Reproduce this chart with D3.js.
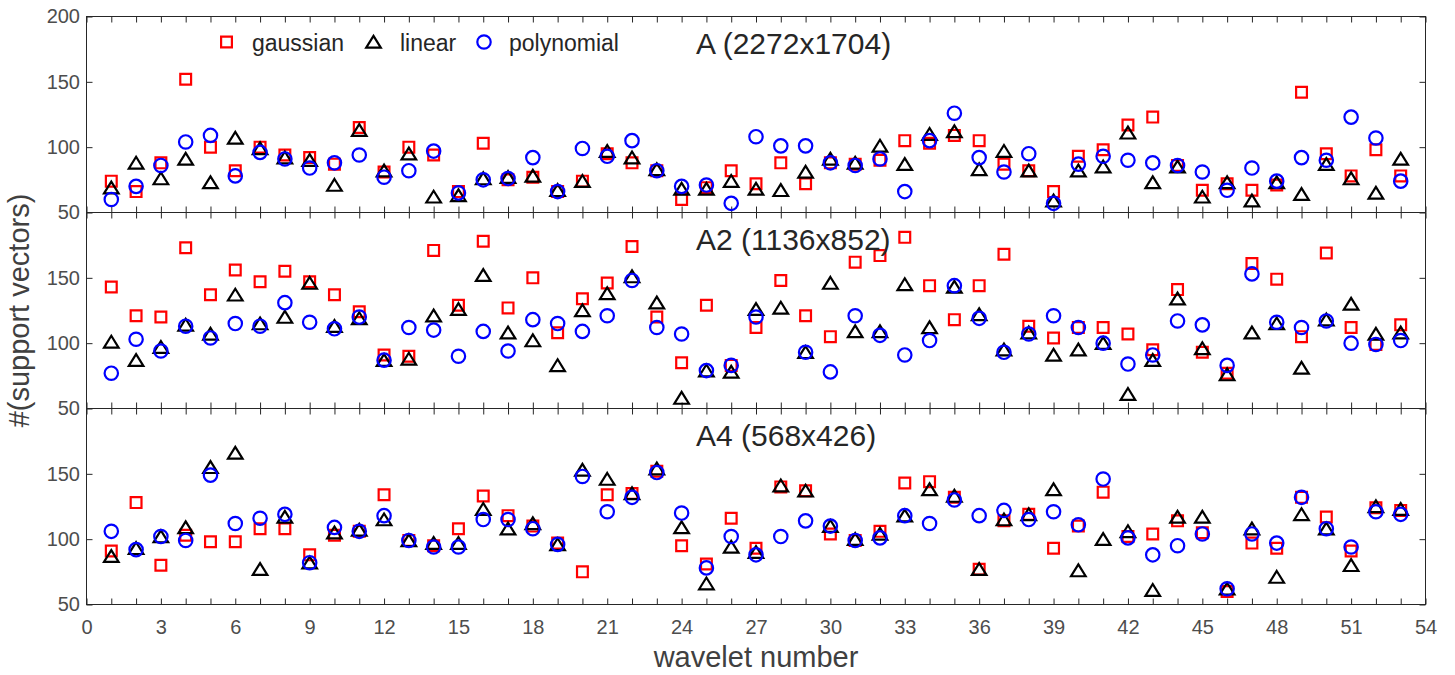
<!DOCTYPE html>
<html><head><meta charset="utf-8">
<script src="https://cdn.jsdelivr.net/npm/d3@7"></script>
<style>body{margin:0;background:#fff}svg{display:block}</style>
</head><body>
<svg id="chart" width="1455" height="675"></svg>
<script>
// ---------- data ----------
const waveletNumbers = d3.range(1, 54);
const seriesNames = ["gaussian", "linear", "polynomial"];
const panelTitles = ["A (2272x1704)", "A2 (1136x852)", "A4 (568x426)"];
const xTickValues = d3.range(0, 55, 3);
const yTicksFirstPanel = [50, 100, 150, 200];
const yTicksOtherPanels = [50, 100, 150];
const xLabel = "wavelet number";
const yLabel = "#(support vectors)";

const gaussianA = [74,66,88,152,100,82,100,94,92,87,115,81,100,94,66,103,75,77,66,74,95,88,82,60,69,82,72,88,72,88,87,90,105,103,109,105,87,82,66,93,98,117,123,86,67,72,67,71,142,95,78,98,78];
const linearA   = [69,88,76,91,73,107,99,92,90,71,113,82,95,62,63,76,77,78,67,74,97,92,83,68,68,74,68,67,81,91,88,101,87,110,112,83,97,82,59,82,85,111,73,85,62,73,59,73,64,87,76,65,91];
const polyA     = [60,70,86,104,109,78,96,91,84,88,94,77,82,97,65,75,76,92,66,99,93,105,82,70,71,57,108,101,101,88,86,91,66,105,126,92,81,95,57,87,93,90,88,86,81,67,84,74,92,90,123,107,74];

const gaussianA2 = [143,121,120,173,137,156,147,155,147,137,124,91,90,171,129,178,127,150,108,134,146,174,120,85,129,83,112,148,121,105,162,167,181,144,118,144,168,113,104,112,112,107,95,141,93,77,161,149,105,169,112,99,114];
const linearA2   = [101,87,97,114,107,137,115,120,146,113,119,87,88,121,126,152,108,102,83,125,138,151,131,58,79,78,126,127,93,146,109,109,145,112,143,122,95,108,91,95,100,61,87,134,96,76,108,115,81,118,130,107,108];
const polyA2     = [77,103,94,113,104,115,113,131,116,111,120,87,112,110,90,109,94,118,115,109,121,148,112,107,79,83,120,null,93,78,121,106,91,102,144,119,93,107,121,112,100,84,91,117,114,83,153,116,112,117,100,99,102];

const gaussianA4 = [91,128,80,103,98,98,108,108,88,103,106,134,99,95,108,133,118,110,97,75,134,135,152,95,81,116,93,140,137,104,99,106,143,144,132,77,114,119,93,110,136,102,104,114,105,60,97,93,132,117,91,124,122];
const linearA4   = [87,93,102,109,155,166,77,117,82,105,107,115,99,97,97,123,108,112,96,153,146,135,154,109,66,94,90,141,137,110,100,104,118,138,133,77,115,119,138,76,100,106,61,117,117,62,108,71,119,108,80,125,123];
const polyA4     = [106,92,102,99,149,112,116,119,82,109,106,118,99,94,94,115,115,108,96,148,121,132,151,120,78,102,88,102,114,110,99,101,118,112,130,118,122,115,121,111,146,101,88,95,104,62,104,97,132,108,94,121,119];

const panels = [
  {title: panelTitles[0], series: [gaussianA, linearA, polyA], yTicks: yTicksFirstPanel},
  {title: panelTitles[1], series: [gaussianA2, linearA2, polyA2], yTicks: yTicksOtherPanels},
  {title: panelTitles[2], series: [gaussianA4, linearA4, polyA4], yTicks: yTicksOtherPanels}
];

// ---------- layout ----------
const FONT = "'Liberation Sans', Arial, Helvetica, sans-serif";
const left = 86.5, right = 1425.5, top0 = 16.5, panelH = 196;
const axisColor = "#262626", tickLabelColor = "#4d4d4d";
const colors = ["#ff0000", "#000000", "#0000ff"];

const svg = d3.select("#chart");
const x = d3.scaleLinear().domain([0, 54]).range([left, right]);

const markerPath = {
  gaussian: "M-5.4,-5.4H5.4V5.4H-5.4Z",
  linear: "M0,-6.1L7.3,5.7H-7.3Z",
  polynomial: d3.arc()({innerRadius: 0, outerRadius: 6.7, startAngle: 0, endAngle: 2 * Math.PI})
};

panels.forEach((p, pi) => {
  const pTop = top0 + pi * panelH;
  const y = d3.scaleLinear().domain([50, 200]).range([pTop + panelH, pTop]);
  const g = svg.append("g");

  const isLast = pi === panels.length - 1;
  const xb = g.append("g").attr("transform", `translate(0,${pTop + panelH})`)
    .call(d3.axisBottom(x).tickValues(d3.range(0, 55)).tickSize(-6).tickPadding(15.5)
      .tickFormat(d => (isLast && xTickValues.includes(d)) ? d : ""));
  const xt = g.append("g").attr("transform", `translate(0,${pTop})`)
    .call(d3.axisTop(x).tickValues(d3.range(0, 55)).tickSize(-6).tickFormat(""));
  const yl = g.append("g").attr("transform", `translate(${left},0)`)
    .call(d3.axisLeft(y).tickValues(p.yTicks).tickSize(-6).tickPadding(6.5));
  const yr = g.append("g").attr("transform", `translate(${right},0)`)
    .call(d3.axisRight(y).tickValues(p.yTicks).tickSize(-6).tickFormat(""));

  [xb, xt, yl, yr].forEach(a => {
    a.select(".domain").remove();
    a.selectAll(".tick line").attr("stroke", axisColor).attr("stroke-width", 1);
    a.selectAll("text").attr("font-family", FONT).attr("font-size", 20).attr("fill", tickLabelColor);
  });

  g.append("rect").attr("x", left).attr("y", pTop).attr("width", right - left).attr("height", panelH)
    .attr("fill", "none").attr("stroke", axisColor).attr("stroke-width", 1);

  p.series.forEach((vals, si) => {
    const name = seriesNames[si];
    g.append("g").selectAll("path")
      .data(waveletNumbers.map((w, i) => ({w, v: vals[i]})).filter(d => d.v != null))
      .join("path")
      .attr("transform", d => `translate(${x(d.w)},${y(d.v)})`)
      .attr("d", markerPath[name])
      .attr("fill", "none").attr("stroke", colors[si]).attr("stroke-width", 2.2)
      .attr("stroke-linejoin", "miter");
  });

  g.append("text").attr("x", 696).attr("y", pTop + 37)
    .attr("font-family", FONT).attr("font-size", 30).attr("fill", axisColor).text(p.title);
});

// legend
const legendItems = [
  {name: "gaussian", mx: 226.5, tx: 252},
  {name: "linear", mx: 373.5, tx: 400},
  {name: "polynomial", mx: 484, tx: 509}
];
const lg = svg.append("g");
legendItems.forEach((it, i) => {
  lg.append("path").attr("transform", `translate(${it.mx},${top0 + 25.5})`)
    .attr("d", markerPath[it.name]).attr("fill", "none").attr("stroke", colors[i]).attr("stroke-width", 2.2);
  lg.append("text").attr("x", it.tx).attr("y", top0 + 34)
    .attr("font-family", FONT).attr("font-size", 23).attr("fill", axisColor).text(seriesNames[i]);
});

// axis labels
svg.append("text").attr("x", (left + right) / 2).attr("y", 667).attr("text-anchor", "middle")
  .attr("font-family", FONT).attr("font-size", 29).attr("fill", "#404040").text(xLabel);
svg.append("text").attr("transform", `translate(29,${top0 + panelH * 1.5}) rotate(-90)`)
  .attr("text-anchor", "middle")
  .attr("font-family", FONT).attr("font-size", 29).attr("fill", "#404040").text(yLabel);
</script>
</body></html>
